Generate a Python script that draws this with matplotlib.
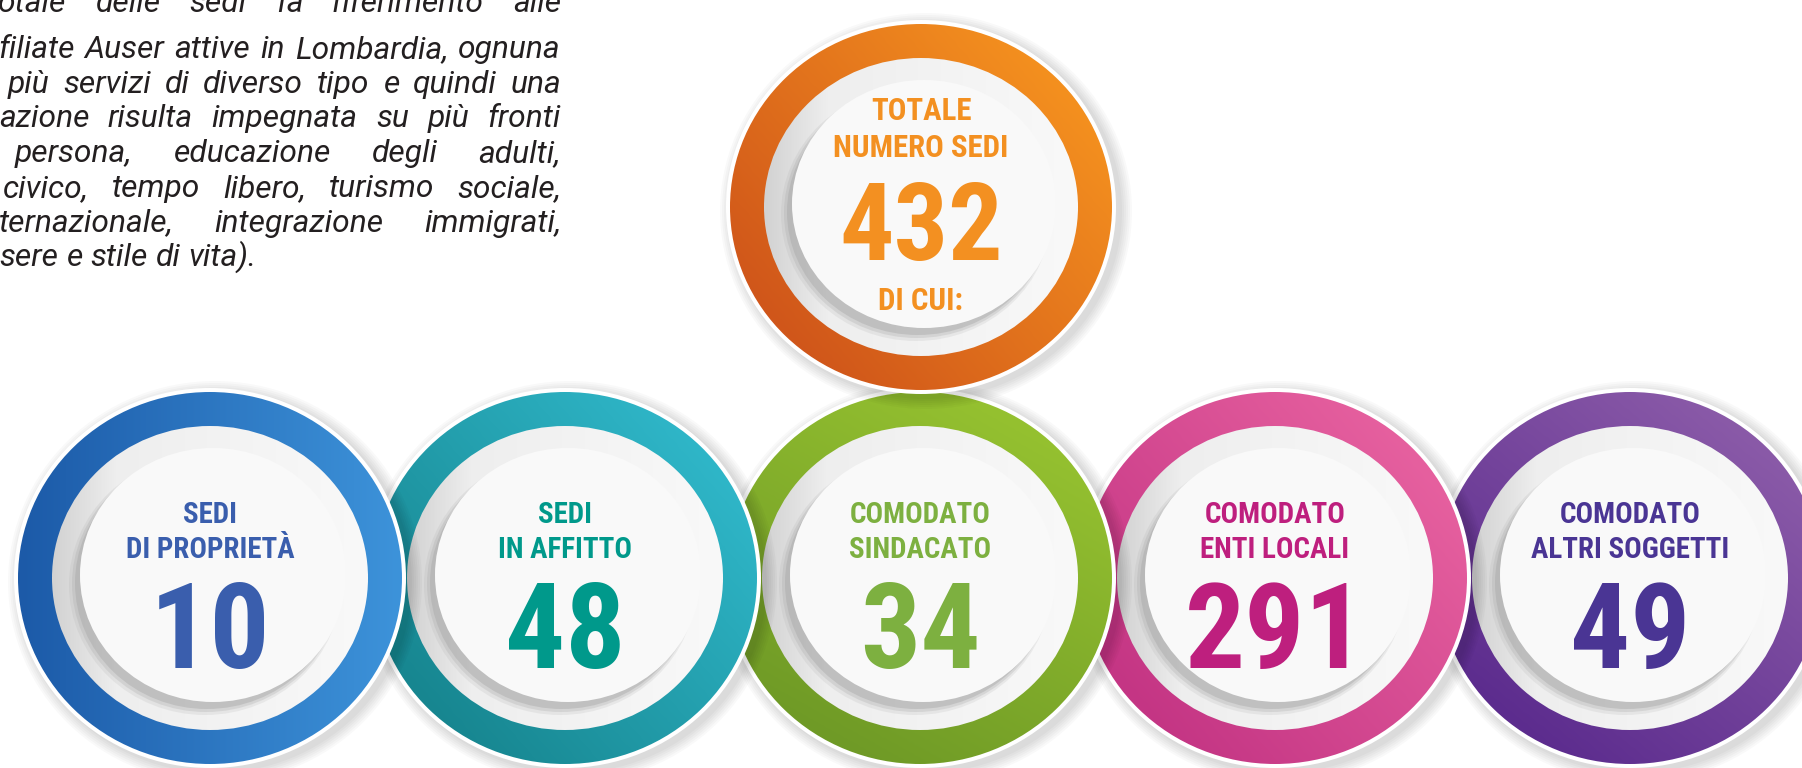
import os
import numpy as np
import matplotlib
matplotlib.use("Agg")
import matplotlib.pyplot as plt
from matplotlib.patches import Ellipse
from matplotlib.colors import LinearSegmentedColormap
from matplotlib import font_manager
from matplotlib.font_manager import FontProperties
from matplotlib.textpath import TextPath

W, H = 1802, 768

# --- data -------------------------------------------------------------
total_label = ["TOTALE", "NUMERO SEDI"]
total_value = 432
total_note = "DI CUI:"

categories = [
    ["SEDI", "DI PROPRIETÀ"],
    ["SEDI", "IN AFFITTO"],
    ["COMODATO", "SINDACATO"],
    ["COMODATO", "ENTI LOCALI"],
    ["COMODATO", "ALTRI SOGGETTI"],
]
values = [10, 48, 34, 291, 49]

paragraph = [
    "otale delle sedi fa riferimento alle",
    "filiate Auser attive in Lombardia, ognuna",
    "più servizi di diverso tipo e quindi una",
    "azione risulta impegnata su più fronti",
    "persona, educazione degli adulti,",
    "civico, tempo libero, turismo sociale,",
    "ternazionale, integrazione immigrati,",
    "sere e stile di vita).",
]

# --- styles -----------------------------------------------------------
total_text = "#f39021"
total_ring = ("#d0561a", "#f4901f")
text_colors = ["#3a5ead", "#00998b", "#7db040", "#be1f7e", "#4a3594"]
ring_colors = [
    ("#1c5aa8", "#3d93da"),
    ("#178690", "#2fb6c8"),
    ("#6f9a26", "#95c130"),
    ("#c43584", "#e6609f"),
    ("#5c2c8e", "#8a5aa8"),
]
ring_angles = [0, 40, 60, 40, 50]


def find_font(patterns, fallback):
    files = [f.fname for f in font_manager.fontManager.ttflist]
    for p in patterns:
        for fn in files:
            if os.path.basename(fn).lower().startswith(p.lower()):
                return FontProperties(fname=fn)
    return fallback


BOLD = find_font(
    ["NotoSans-CondensedBold.", "LiberationSansNarrow-Bold.", "RobotoCondensed-Bold.",
     "OpenSans-CondBold", "DejaVuSansCondensed-Bold."],
    FontProperties(family="DejaVu Sans", weight="bold", stretch="condensed"))
ITAL = find_font(
    ["Roboto-Italic.", "NotoSans-Italic.", "LiberationSans-Italic.", "DejaVuSans-Oblique."],
    FontProperties(family="DejaVu Sans", style="italic"))


def text_width(s, prop, size_px=100):
    return TextPath((0, 0), s, size=size_px, prop=prop).get_extents().width


def fit_size(prop, cap_px, ref="H", wide=None, max_w=None):
    # font size in points (100 dpi) giving a cap height of cap_px, capped by a max width
    h = TextPath((0, 0), ref, size=100, prop=prop).get_extents().height
    px = 100 * cap_px / h
    if wide is not None:
        px = min(px, 100 * max_w / text_width(wide, prop))
    return px * 0.72


fig = plt.figure(figsize=(W / 100, H / 100), dpi=100)
ax = fig.add_axes([0, 0, 1, 1])
ax.set_xlim(0, W)
ax.set_ylim(H, 0)
ax.axis("off")


def gradient_fill(cx, cy, rx, ry, colors, angle, z, stops=None):
    clip = Ellipse((cx, cy), 2 * rx, 2 * ry, fc="none", ec="none")
    ax.add_patch(clip)
    xs = np.linspace(-1, 1, 160)
    X, Y = np.meshgrid(xs, xs)
    a = np.deg2rad(angle)
    t = (X * np.cos(a) - Y * np.sin(a) + 1) / 2
    if stops is None:
        cmap = LinearSegmentedColormap.from_list("g", colors)
    else:
        cmap = LinearSegmentedColormap.from_list("g", list(zip(stops, colors)))
    im = ax.imshow(t, cmap=cmap, vmin=0, vmax=1, extent=(cx - rx, cx + rx, cy + ry, cy - ry),
                   origin="upper", aspect="auto", interpolation="bilinear", zorder=z)
    im.set_clip_path(clip)


def badge(cx, cy, rx, ry, dark, light, angle, z):
    for k in range(6, 0, -1):
        ax.add_patch(Ellipse((cx + 5, cy + 4), 2 * (rx + 3 + 2 * k), 2 * (ry + 3 + 2 * k),
                             fc="black", ec="none", alpha=0.022, zorder=z))
    ax.add_patch(Ellipse((cx, cy), 2 * (rx + 4), 2 * (ry + 4), fc="white", ec="none", zorder=z + 0.1))
    gradient_fill(cx, cy, rx, ry, [dark, light], angle, z + 0.2)
    # plate brim, shaded on the left
    gradient_fill(cx, cy, rx - 34, ry - 34, ["#d2d2d2", "#eeeeee", "#f9f9f9"], 0, z + 0.3,
                  stops=[0, 0.2, 1])
    # crescent shadow under the inner plate
    for k, al in [(0, 0.16), (2, 0.26), (4, 0.4)]:
        ax.add_patch(Ellipse((cx - 5 + k / 2, cy + 7 - k / 2), 2 * (rx - 56 - k), 2 * (ry - 56 - k),
                             fc="#a4a4a4", ec="none", alpha=al, zorder=z + 0.4))
    ax.add_patch(Ellipse((cx + 3, cy - 3), 2 * (rx - 59), 2 * (ry - 59),
                         fc="#f9f9f9", ec="none", zorder=z + 0.5))


def label(x, y, s, color, size, prop=BOLD):
    fp = prop.copy()
    fp.set_size(size)
    ax.text(x, y, s, color=color, fontproperties=fp, ha="center", va="baseline", zorder=20)


lab_size = fit_size(BOLD, 22, wide="ALTRI SOGGETTI", max_w=196)
num_size = fit_size(BOLD, 87, ref="10", wide="291", max_w=162)
top_lab_size = fit_size(BOLD, 23, wide="NUMERO SEDI", max_w=172)
top_num_size = fit_size(BOLD, 87, ref="432", wide="432", max_w=156)

# bottom row, drawn right to left so the left plates sit on top
x0, step, cy, rx, ry = 210, 355, 578, 192, 186
for i in range(len(values) - 1, -1, -1):
    cx = x0 + i * step
    badge(cx, cy, rx, ry, ring_colors[i][0], ring_colors[i][1], ring_angles[i], 2 + (len(values) - i))
    label(cx, 523, categories[i][0], text_colors[i], lab_size)
    label(cx, 558, categories[i][1], text_colors[i], lab_size)
    label(cx, 668, str(values[i]), text_colors[i], num_size)

# top total
tx, ty = 921, 207
badge(tx, ty, 191, 183, total_ring[0], total_ring[1], 40, 10)
label(tx, 120, total_label[0], total_text, top_lab_size)
label(tx, 157, total_label[1], total_text, top_lab_size)
label(tx, 260, str(total_value), total_text, top_num_size)
label(tx, 310, total_note, total_text, top_lab_size)

# justified italic paragraph, cut at the left edge
right = 561
starts = [-2, -2, 8, -1, 15, 3, -1, -1]
baselines = [12] + [58 + 34.7 * k for k in range(len(paragraph) - 1)]
px = min(100 * 258 / text_width(paragraph[-1], ITAL),
         100 * 548 / text_width(paragraph[1], ITAL))
para_size = px * 0.72
pfp = ITAL.copy()
pfp.set_size(para_size)
space = px * 0.25
fig.canvas.draw()
renderer = fig.canvas.get_renderer()
for i, line in enumerate(paragraph):
    words = line.split()
    texts = [ax.text(0, baselines[i], w, fontproperties=pfp, color="#231f20", ha="left",
                     va="baseline", zorder=20) for w in words]
    widths = [t.get_window_extent(renderer).width for t in texts]
    last = i == len(paragraph) - 1
    gap = (right - starts[i] - sum(widths)) / (len(words) - 1) if not last else space
    x = starts[i]
    for t, w in zip(texts, widths):
        t.set_x(x)
        x += w + gap

fig.savefig("out.png", dpi=100, facecolor="white")
